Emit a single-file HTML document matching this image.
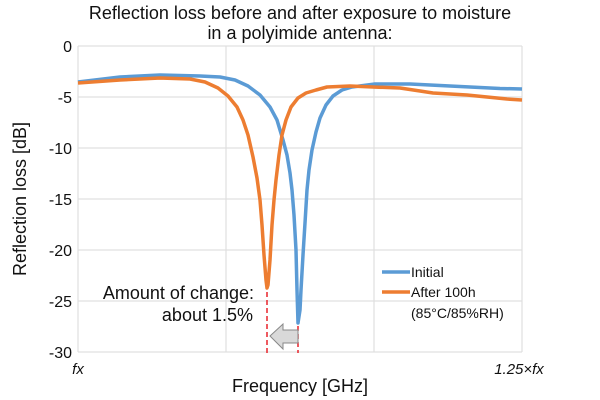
<!DOCTYPE html>
<html><head><meta charset="utf-8"><style>body{margin:0;background:#fff}svg{display:block}text{font-family:"Liberation Sans",sans-serif;fill:#111}</style></head><body>
<svg width="600" height="400" viewBox="0 0 600 400">
<text x="300" y="19" font-size="18" text-anchor="middle">Reflection loss before and after exposure to moisture</text>
<text x="300" y="39" font-size="18" text-anchor="middle">in a polyimide antenna:</text>
<g stroke="#e0e0e0" stroke-width="1.2">
<line x1="78" y1="46" x2="522" y2="46"/><line x1="78" y1="97" x2="522" y2="97"/><line x1="78" y1="148" x2="522" y2="148"/><line x1="78" y1="199" x2="522" y2="199"/><line x1="78" y1="250" x2="522" y2="250"/><line x1="78" y1="301" x2="522" y2="301"/><line x1="78" y1="352" x2="522" y2="352"/>
<line x1="78" y1="46" x2="78" y2="352"/><line x1="226" y1="46" x2="226" y2="352"/><line x1="374" y1="46" x2="374" y2="352"/><line x1="522" y1="46" x2="522" y2="352"/>
</g>
<g font-size="16" text-anchor="end">
<text x="72" y="52">0</text><text x="72" y="103">-5</text><text x="72" y="154">-10</text><text x="72" y="205">-15</text><text x="72" y="256">-20</text><text x="72" y="307">-25</text><text x="72" y="358">-30</text></g>
<text x="78" y="374" font-size="15" font-style="italic" text-anchor="middle">fx</text>
<text x="519" y="374" font-size="15" font-style="italic" text-anchor="middle">1.25×fx</text>
<text x="300" y="392" font-size="18" text-anchor="middle">Frequency [GHz]</text>
<text transform="translate(26,199) rotate(-90)" font-size="18" text-anchor="middle">Reflection loss [dB]</text>
<polyline fill="none" stroke="#5b9bd5" stroke-width="3.5" stroke-linejoin="round" points="78,82 120,77 160,75 200,76 220,77 235,80 248,86 260,95 270,107 277,120 283,140 287,155 290,173 292,190 294,215 296,250 297,290 298,323 300,310 301,290 303,255 305,223 307,190 309,170 312,150 316,132 320,118 326,105 333,96 342,90 352,87 375,84 410,84 450,86 500,88.5 522,89"/>
<polyline fill="none" stroke="#ed7d31" stroke-width="3.5" stroke-linejoin="round" points="78,83 120,80 160,78 190,79 205,82 218,88 228,96 237,107 243,120 248,135 253,157 257,178 260,200 262,225 264,255 266,280 267,288 268,285 270,260 272,225 274,200 276,180 279,155 282,135 286,120 291,107 298,98 306,93 316,90 327,87 350,86 373,87 400,88 420,91 433,93 467,95 507,99 522,100"/>
<g stroke="#e8242c" stroke-width="1.5" stroke-dasharray="5,3"><line x1="267" y1="292" x2="267" y2="353"/><line x1="298" y1="326" x2="298" y2="353"/></g>
<polygon points="270,336 283,324 283,330 298,330 298,343 283,343 283,349" fill="#d9d9d9" stroke="#888" stroke-width="1"/>
<g font-size="18" text-anchor="end"><text x="254" y="299">Amount of change:</text><text x="253" y="321">about 1.5%</text></g>
<line x1="382" y1="272" x2="410" y2="272" stroke="#5b9bd5" stroke-width="3.5"/>
<line x1="382" y1="292" x2="410" y2="292" stroke="#ed7d31" stroke-width="3.5"/>
<g font-size="14"><text x="411" y="277">Initial</text><text x="411" y="297">After 100h</text><text x="411" y="318">(85°C/85%RH)</text></g>
</svg></body></html>
